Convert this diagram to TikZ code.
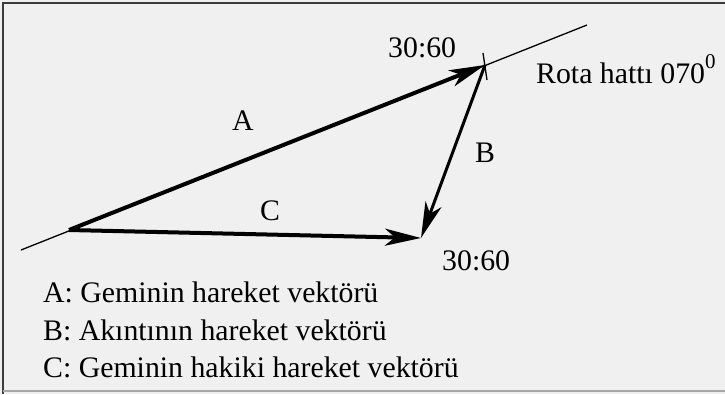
\documentclass[tikz,border=0pt]{standalone}
\usepackage{fontspec}
\setmainfont{Liberation Serif}
\usetikzlibrary{arrows.meta}
\definecolor{bgGray}{HTML}{F0F0F0}
\definecolor{frameDark}{HTML}{3C3C3C}
\definecolor{frameLight}{HTML}{A8A8A8}

\begin{document}
\begin{tikzpicture}[x=1pt, y=-1pt,
  font=\fontsize{29.8}{34}\selectfont,
  vec/.style={line width=4pt, -{Stealth[length=36pt,width=17pt,inset=10pt]}},
  rota/.style={line width=1.3pt},
  lab/.style={inner sep=0pt, anchor=base},
  leg/.style={inner sep=0pt, anchor=base west}
]
  \useasboundingbox (0,0) rectangle (725,394);
  \fill[bgGray] (0,0) rectangle (725,394);
  \draw[frameDark, line width=2pt] (3,394) -- (3,3) -- (725,3);
  \draw[frameLight, line width=2pt] (3,391) -- (725,391);

  % course line and vector triangle
  \coordinate (rotaW) at (21,250);
  \coordinate (rotaE) at (587,25);
  \coordinate (start) at (69,230);
  \coordinate (apex) at (485,65);
  \coordinate (drift) at (421,238);
  \coordinate (tickT) at (483,53);
  \coordinate (tickB) at (487,80);

  \draw[rota] (rotaW) -- (rotaE);
  \draw[rota] (tickT) -- (tickB);
  \draw[vec] (start) -- (apex);
  \draw[vec, line width=3pt] (apex) -- (drift);
  \draw[vec] (start) -- (drift);

  \node[lab] (lblA) at (243,130) {A};
  \node[lab] (lblB) at (485,162) {B};
  \node[lab] (lblC) at (270,220) {C};
  \node[leg] (speedTop) at (388,57) {30:60};
  \node[leg] (speedBot) at (442,270) {30:60};
  \node[leg] (rotaLbl) at (536,83)
    {Rota hattı 070\raisebox{0.5em}{\fontsize{21}{21}\selectfont 0}};

  % legend
  \node[leg] (legA) at (43,302) {A: Geminin hareket vektörü};
  \node[leg] (legB) at (43,340) {B: Akıntının hareket vektörü};
  \node[leg] (legC) at (43,377) {C: Geminin hakiki hareket vektörü};
\end{tikzpicture}
\end{document}
